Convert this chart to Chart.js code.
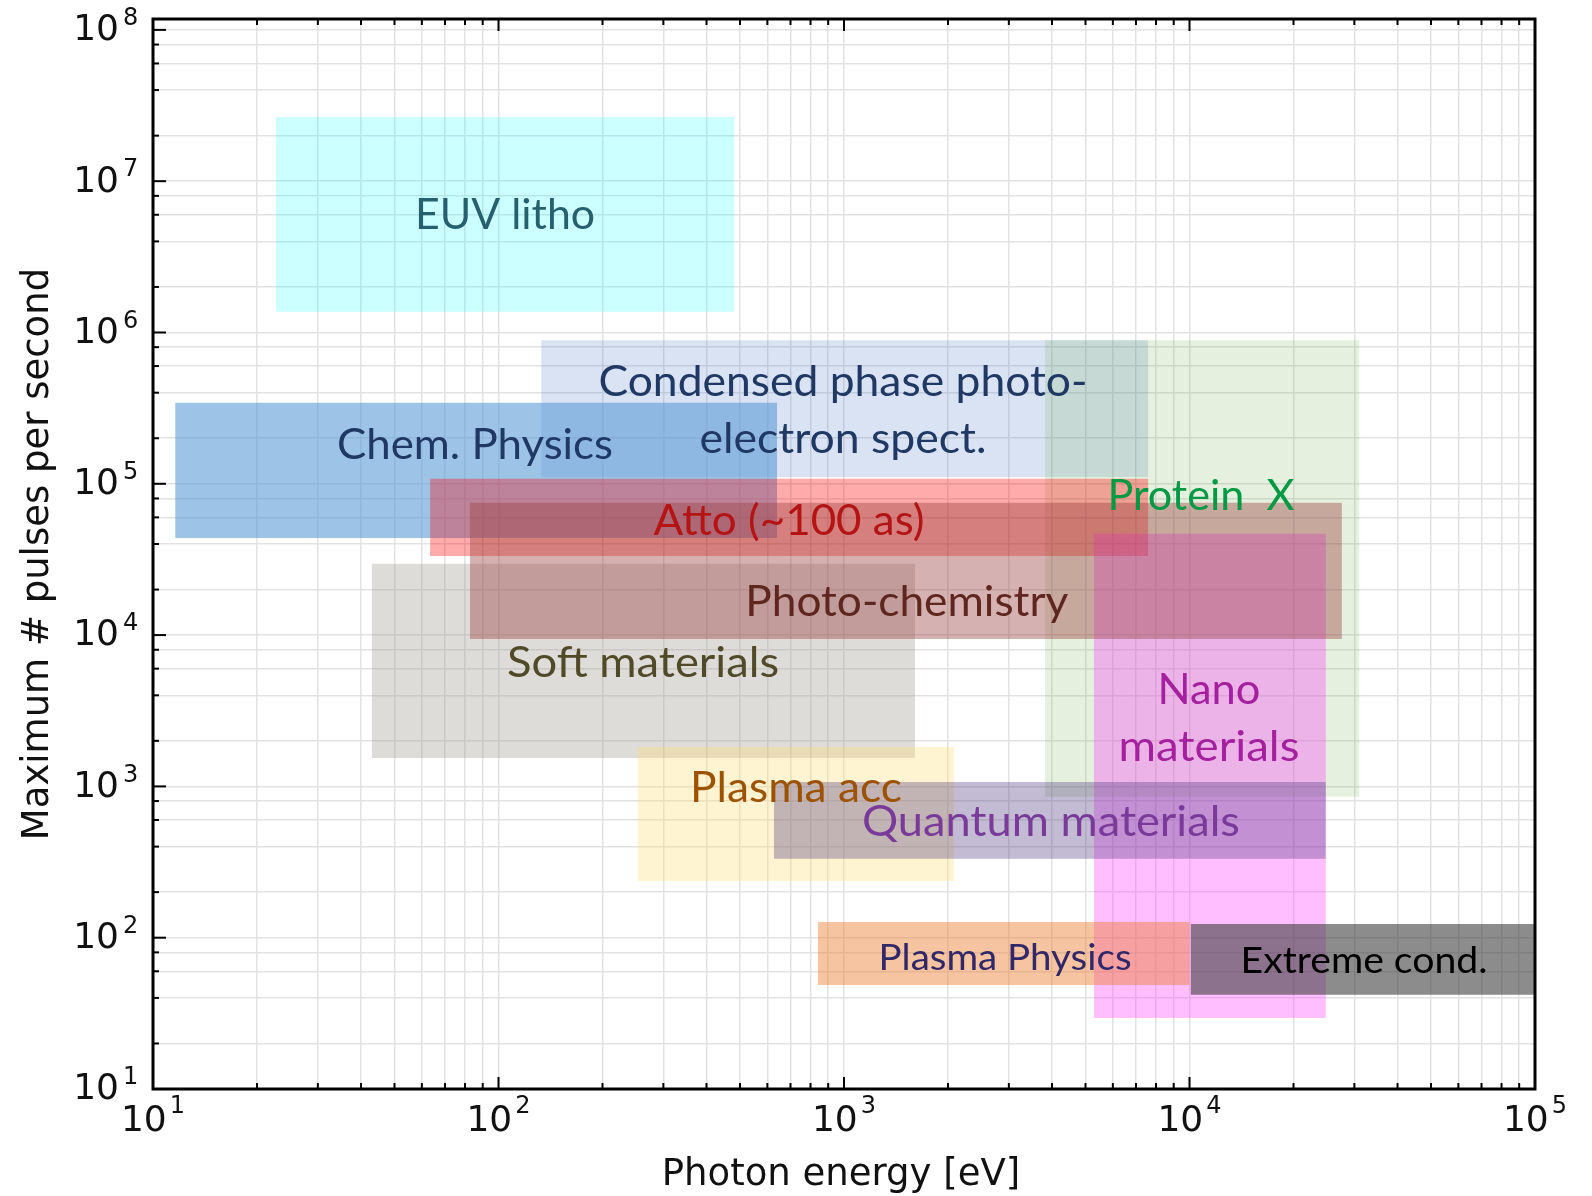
<!DOCTYPE html>
<html>
<head>
<meta charset="utf-8">
<script src="https://cdn.jsdelivr.net/npm/chart.js@4"></script>
<style>
  html, body { margin: 0; padding: 0; background: #fff; }
  canvas { display: block; }
</style>
</head>
<body>
<canvas id="fieldChart" width="1592" height="1196"></canvas>
<script>
// Application areas: photon energy range [eV] and max pulses per second range
const areas = [
    "EUV litho", "Condensed phase photo-electron spect.", "Protein X", "Chem. Physics",
    "Soft materials", "Atto (~100 as)", "Nano materials", "Photo-chemistry",
    "Plasma acc", "Quantum materials", "Plasma Physics", "Extreme cond."
];
const energyMin = [22.7, 133, 3820, 11.6, 43, 63.4, 5290, 82.7, 253, 627, 841, 10090];
const energyMax = [481, 7590, 31000, 640, 1605, 7590, 24800, 27600, 2080, 24800, 10000, 100000];
const rateMin = [1.37e6, 1.11e5, 853, 4.39e4, 1540, 3.33e4, 29.5, 9440, 237, 332, 48.7, 41.9];
const rateMax = [2.66e7, 8.9e5, 8.9e5, 3.43e5, 2.96e4, 1.08e5, 4.67e4, 7.48e4, 1820, 1070, 127, 123];

// where each area's name sits (data coordinates)
const labelEnergy = [104.5, 993, 10790, 85.5, 262, 693, 11380, 1520, 726, 3970, 2925, 32000];
const labelRate = [6.08e6, 3.08e5, 8.45e4, 1.84e5, 6650, 5.77e4, 2840, 1.68e4, 993, 592, 74.7, 71.3];
const labelLines = [
    ["EUV litho"], ["Condensed phase photo-", "electron spect."], ["Protein  X"], ["Chem. Physics"],
    ["Soft materials"], ["Atto (~100 as)"], ["Nano", "materials"], ["Photo-chemistry"],
    ["Plasma acc"], ["Quantum materials"], ["Plasma Physics"], ["Extreme cond."]
];

// axis decades and minor steps
const xExponents = [1, 2, 3, 4, 5];
const yExponents = [1, 2, 3, 4, 5, 6, 7, 8];
const xMinorSteps = [2, 3, 4, 5, 6, 7, 8, 9];
const yMinorSteps = [2, 4, 6, 8];

// styles
const fills = [
    "rgba(0,255,255,0.2)", "rgba(68,114,196,0.2)", "rgba(112,173,71,0.18)", "rgba(91,155,213,0.6)",
    "rgba(160,155,145,0.35)", "rgba(255,0,0,0.33)", "rgba(255,40,255,0.3)", "rgba(150,60,60,0.4)",
    "rgba(255,217,102,0.3)", "rgba(80,60,130,0.35)", "rgba(237,125,49,0.45)", "rgba(64,64,64,0.6)"
];
const textColors = [
    "#25606e", "#1f3864", "#009a44", "#1f3864", "#504a28", "#b41414",
    "#a5209f", "#5e261e", "#9c5200", "#7a3a9a", "#302868", "#000000"
];
const textWidths = [[180], [489, 287], [187], [276], [272], [271], [103, 181], [323], [212], [378], [253], [247]];
const textSizes = [42, 42, 42, 42, 42, 42, 42, 42, 42, 42, 37, 37];

function logTicks(exps, steps, max) {
    const vals = [];
    exps.forEach(e => {
        const base = Math.pow(10, e);
        vals.push(base);
        steps.forEach(s => { if (s * base <= max) vals.push(s * base); });
    });
    return vals.filter(v => v <= max).map(v => ({ value: v }));
}

const X_MAX = 1e5, Y_MAX = 1.18e8;

const decorations = {
    id: "decorations",
    afterDatasetsDraw(chart) {
        const c = chart.ctx, xs = chart.scales.x, ys = chart.scales.y;
        c.save();
        c.textAlign = "center";
        c.textBaseline = "alphabetic";
        areas.forEach((name, i) => {
            const px = xs.getPixelForValue(labelEnergy[i]);
            const py = ys.getPixelForValue(labelRate[i]);
            const lines = labelLines[i];
            const size = textSizes[i];
            c.font = size + "px Lato";
            c.fillStyle = textColors[i];
            lines.forEach((t, j) => {
                const ly = py + (j - (lines.length - 1) / 2) * 57 + size * 0.36;
                const w = c.measureText(t).width;
                c.save();
                c.translate(px, ly);
                c.scale(textWidths[i][j] / w, 1);
                c.fillText(t, 0, 0);
                c.restore();
            });
        });
        c.restore();
    },
    afterDraw(chart) {
        const c = chart.ctx, xs = chart.scales.x, ys = chart.scales.y;
        const a = chart.chartArea;
        c.save();
        const isMajor = v => Math.abs(Math.log10(v) - Math.round(Math.log10(v))) < 1e-9;
        // inward ticks
        c.strokeStyle = "#000";
        c.lineWidth = 2;
        xs.ticks.forEach(t => {
            const px = xs.getPixelForValue(t.value);
            const len = isMajor(t.value) ? 12 : 6;
            c.beginPath();
            c.moveTo(px, a.bottom); c.lineTo(px, a.bottom - len);
            c.moveTo(px, a.top); c.lineTo(px, a.top + len);
            c.stroke();
        });
        ys.ticks.forEach(t => {
            const py = ys.getPixelForValue(t.value);
            const len = isMajor(t.value) ? 13 : 6;
            c.beginPath();
            c.moveTo(a.left, py); c.lineTo(a.left + len, py);
            c.stroke();
        });
        // frame
        c.lineWidth = 3;
        c.strokeRect(a.left, a.top, a.right - a.left, a.bottom - a.top);

        // tick labels 10^n
        c.fillStyle = "#111";
        c.textBaseline = "middle";
        yExponents.forEach(e => {
            const py = ys.getPixelForValue(Math.pow(10, e));
            c.font = "36px 'DejaVu Sans'";
            c.textAlign = "right";
            c.fillText("10", a.left - 34, py + 1);
            c.font = "24px 'DejaVu Sans'";
            c.textAlign = "left";
            c.fillText(String(e), a.left - 30, py - 11);
        });
        xExponents.forEach(e => {
            const px = xs.getPixelForValue(Math.pow(10, e));
            c.font = "36px 'DejaVu Sans'";
            const w1 = c.measureText("10").width;
            c.font = "24px 'DejaVu Sans'";
            const w2 = c.measureText(String(e)).width;
            const left = px - (w1 + 3 + w2) / 2;
            c.textAlign = "left";
            c.font = "36px 'DejaVu Sans'";
            c.fillText("10", left, a.bottom + 33);
            c.font = "24px 'DejaVu Sans'";
            c.fillText(String(e), left + w1 + 3, a.bottom + 18);
        });

        // axis titles
        c.font = "37px 'DejaVu Sans'";
        c.textAlign = "center";
        c.fillText("Photon energy [eV]", (a.left + a.right) / 2 - 3, 1175);
        c.save();
        c.translate(38, (a.top + a.bottom) / 2);
        c.rotate(-Math.PI / 2);
        c.fillText("Maximum # pulses per second", 0, 0);
        c.restore();
        c.restore();
    }
};

const ctx = document.getElementById("fieldChart").getContext("2d");
const chart = new Chart(ctx, {
    type: "line",
    data: {
        datasets: areas.map((name, i) => ({
            label: name,
            data: [
                { x: energyMin[i], y: rateMin[i] },
                { x: energyMax[i], y: rateMin[i] },
                { x: energyMax[i], y: rateMax[i] },
                { x: energyMin[i], y: rateMax[i] }
            ],
            fill: "shape",
            backgroundColor: fills[i],
            borderColor: "rgba(0,0,0,0)",
            borderWidth: 0,
            pointRadius: 0,
            tension: 0,
            order: -i
        }))
    },
    options: {
        responsive: false,
        animation: false,
        layout: { padding: { left: 153, right: 57, top: 19, bottom: 107 } },
        plugins: {
            legend: { display: false },
            tooltip: { enabled: false }
        },
        scales: {
            x: {
                type: "logarithmic",
                min: 10,
                max: X_MAX,
                afterBuildTicks: axis => { axis.ticks = logTicks(xExponents, xMinorSteps, X_MAX); },
                ticks: { display: false },
                grid: { color: "#e2e2e2", lineWidth: 1.5, drawTicks: false },
                border: { display: false }
            },
            y: {
                type: "logarithmic",
                min: 10,
                max: Y_MAX,
                afterBuildTicks: axis => { axis.ticks = logTicks(yExponents, yMinorSteps, Y_MAX); },
                ticks: { display: false },
                grid: { color: "#e2e2e2", lineWidth: 1.5, drawTicks: false },
                border: { display: false }
            }
        }
    },
    plugins: [decorations]
});
</script>
</body>
</html>
